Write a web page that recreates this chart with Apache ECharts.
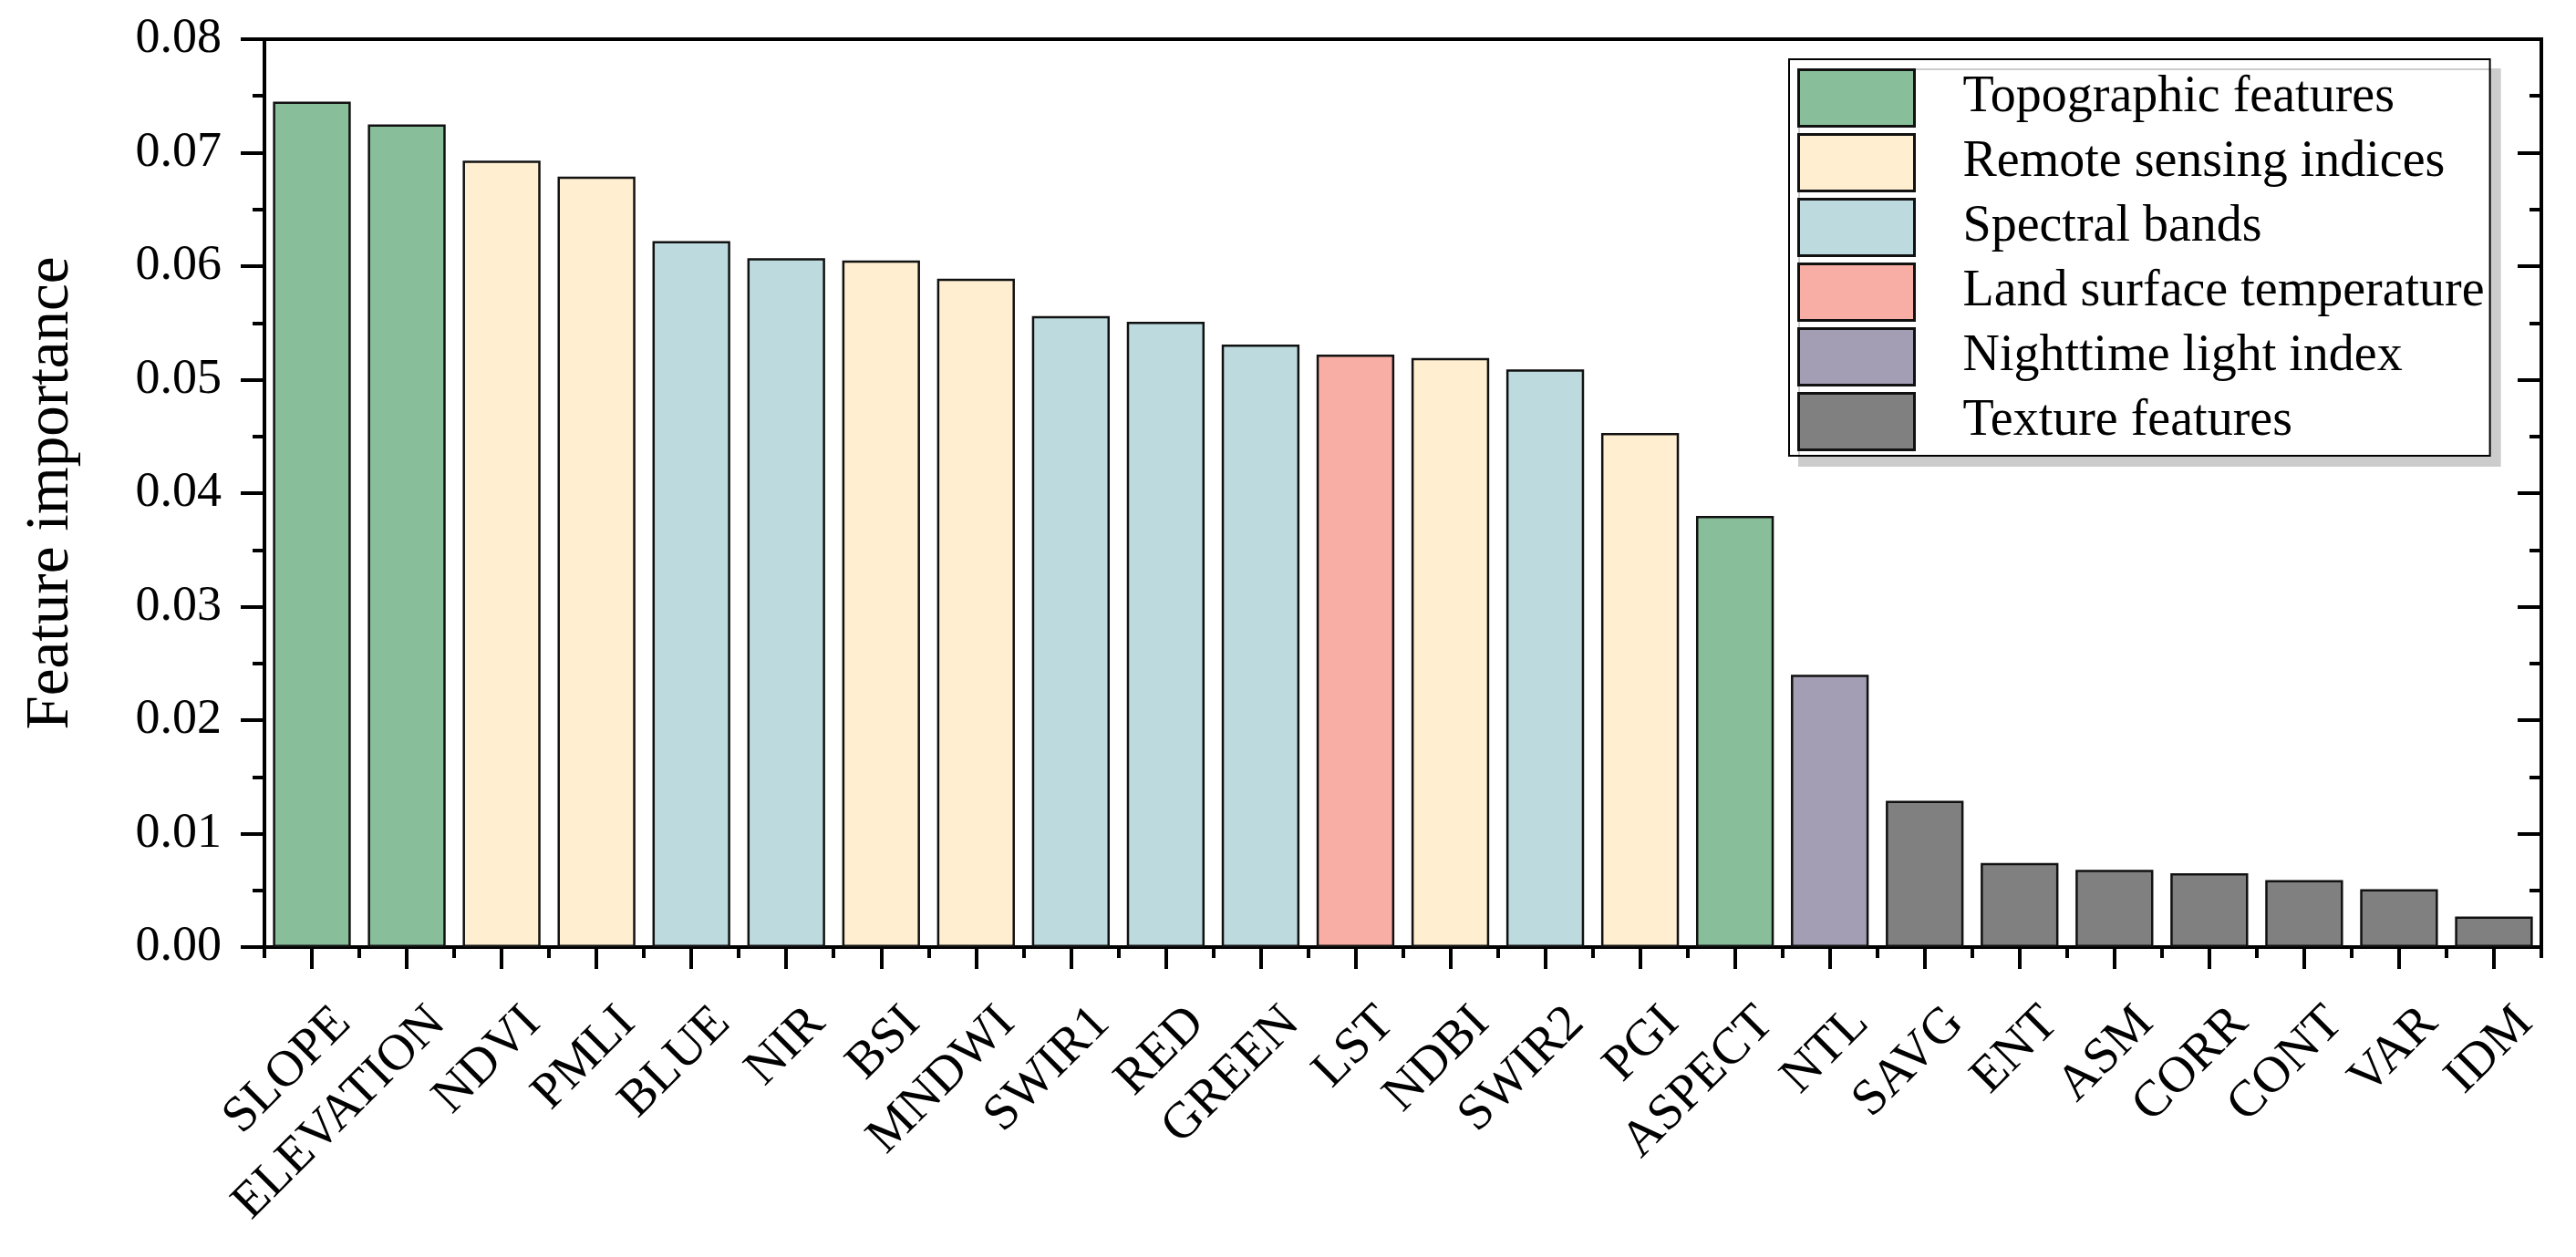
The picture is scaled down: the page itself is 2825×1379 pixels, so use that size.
<!DOCTYPE html>
<html>
<head>
<meta charset="utf-8">
<script src="https://cdn.jsdelivr.net/npm/echarts@6/dist/echarts.min.js"></script>
<style>
html,body{margin:0;padding:0;background:#fff;}
#chart{width:2825px;height:1379px;}
</style>
</head>
<body>
<div id="chart"></div>
<script>
const categories = ['SLOPE','ELEVATION','NDVI','PMLI','BLUE','NIR','BSI','MNDWI','SWIR1','RED','GREEN','LST','NDBI','SWIR2','PGI','ASPECT','NTL','SAVG','ENT','ASM','CORR','CONT','VAR','IDM'];
const values = [0.0745,0.0725,0.0693,0.0679,0.0622,0.0607,0.0605,0.0589,0.0556,0.0551,0.0531,0.0522,0.0519,0.0509,0.0453,0.0380,0.0240,0.0129,0.0074,0.0068,0.0065,0.0059,0.0051,0.0027];
const groups = ['Topographic features','Remote sensing indices','Spectral bands','Land surface temperature','Nighttime light index','Texture features'];
const groupColors = ['#88bf9a','#ffeed0','#bddadf','#f8aea4','#a39eb4','#808080'];
// group index of each category
const groupOf = [0,0,1,1,2,2,1,1,2,2,2,3,1,2,1,0,4,5,5,5,5,5,5,5];
const yTicks = { min: 0, max: 0.08, interval: 0.01 };

const FONT = 'Liberation Serif';
const chart = echarts.init(document.getElementById('chart'), null, {renderer: 'canvas'});

const series = groups.map((g, gi) => ({
  name: g,
  type: 'bar',
  xAxisIndex: 0,
  yAxisIndex: 0,
  barGap: '-100%',
  barWidth: '82%',
  itemStyle: { color: groupColors[gi], borderColor: '#111', borderWidth: 2.5 },
  data: values.map((v, i) => groupOf[i] === gi ? v : '-')
}));

const option = {
  animation: false,
  backgroundColor: '#fff',
  textStyle: { fontFamily: FONT, color: '#000' },
  grid: {
    left: 290, right: 38, top: 43, bottom: 340,
    show: true, borderColor: '#000', borderWidth: 4, backgroundColor: 'transparent',
    outerBoundsMode: 'none', containLabel: false
  },
  legend: {
    orient: 'vertical',
    left: 1962, top: 65,
    data: groups,
    selectedMode: false,
    icon: 'rect',
    itemWidth: 127, itemHeight: 62, itemGap: 6,
    padding: [10, 6, 5, 9],
    backgroundColor: '#fff',
    borderColor: '#000', borderWidth: 2,
    shadowColor: '#cccccc', shadowBlur: 0, shadowOffsetX: 11, shadowOffsetY: 11,
    itemStyle: { borderColor: '#111', borderWidth: 3 },
    textStyle: { fontFamily: FONT, fontSize: 56, lineHeight: 60, color: '#000', padding: [0, 0, 0, 48] }
  },
  xAxis: [
    {
      type: 'category',
      data: categories,
      position: 'bottom',
      offset: 0,
      axisLine: { show: true, lineStyle: { color: '#000', width: 4 } },
      axisTick: { show: true, alignWithLabel: true, length: 24, lineStyle: { color: '#000', width: 4 } },
      axisLabel: {
        interval: 0, rotate: 45, fontFamily: FONT, fontSize: 56, color: '#000',
        margin: 41, verticalAlign: 'top', lineHeight: 96
      },
      splitLine: { show: false }
    },
    {
      type: 'category',
      data: categories,
      position: 'bottom',
      offset: 0,
      axisLine: { show: false },
      axisTick: { show: true, alignWithLabel: false, length: 12, lineStyle: { color: '#000', width: 4 } },
      axisLabel: { show: false },
      splitLine: { show: false }
    }
  ],
  yAxis: [
    {
      type: 'value',
      position: 'left',
      min: yTicks.min, max: yTicks.max, interval: yTicks.interval,
      axisLine: { show: true, lineStyle: { color: '#000', width: 4 } },
      axisTick: { show: true, inside: false, length: 26, lineStyle: { color: '#000', width: 4 } },
      minorTick: { show: true, splitNumber: 2, length: 13, lineStyle: { color: '#000', width: 4 } },
      axisLabel: {
        fontFamily: FONT, fontSize: 54, color: '#000', margin: 47,
        formatter: v => v.toFixed(2)
      },
      splitLine: { show: false },
      name: 'Feature importance',
      nameLocation: 'middle',
      nameGap: 200,
      nameTextStyle: { fontFamily: FONT, fontSize: 67, color: '#000' }
    },
    {
      type: 'value',
      position: 'right',
      min: yTicks.min, max: yTicks.max, interval: yTicks.interval,
      axisLine: { show: true, lineStyle: { color: '#000', width: 4 } },
      axisTick: { show: true, inside: true, length: 26, lineStyle: { color: '#000', width: 4 } },
      minorTick: { show: true, splitNumber: 2, length: 13, lineStyle: { color: '#000', width: 4 } },
      axisLabel: { show: false },
      splitLine: { show: false }
    }
  ],
  series: series
};
chart.setOption(option);
</script>
</body>
</html>
